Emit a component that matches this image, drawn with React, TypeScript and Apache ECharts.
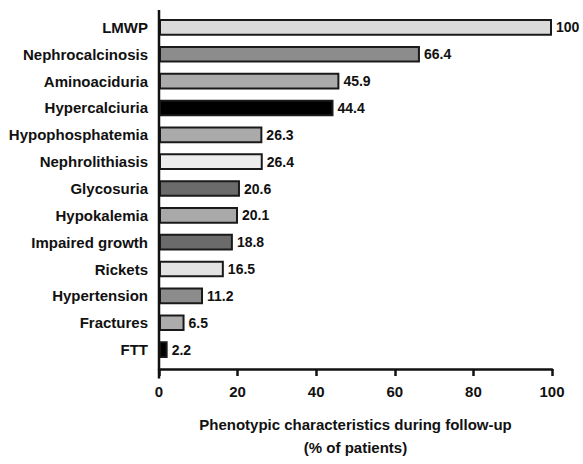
import React, { useEffect, useRef } from "react";
import * as echarts from "echarts";

const categories = [
  "LMWP",
  "Nephrocalcinosis",
  "Aminoaciduria",
  "Hypercalciuria",
  "Hypophosphatemia",
  "Nephrolithiasis",
  "Glycosuria",
  "Hypokalemia",
  "Impaired growth",
  "Rickets",
  "Hypertension",
  "Fractures",
  "FTT",
];
const values = [100, 66.4, 45.9, 44.4, 26.3, 26.4, 20.6, 20.1, 18.8, 16.5, 11.2, 6.5, 2.2];
const barColors = [
  "#dadada",
  "#8c8c8c",
  "#ababab",
  "#000000",
  "#aaaaaa",
  "#ededed",
  "#6b6b6b",
  "#a9a9a9",
  "#6b6b6b",
  "#e2e2e2",
  "#8c8c8c",
  "#acacac",
  "#000000",
];
const xTicks = [0, 20, 40, 60, 80, 100];

const FONT = "'Liberation Sans', Arial, sans-serif";

export default function App() {
  const ref = useRef<HTMLDivElement>(null);
  useEffect(() => {
    if (!ref.current) return;
    const chart = echarts.init(ref.current, null, { renderer: "svg" });
    chart.setOption({
      animation: false,
      backgroundColor: "#ffffff",
      textStyle: { fontFamily: FONT },
      grid: { left: 159, right: 31, top: 14, bottom: 92.5 },
      xAxis: {
        type: "value",
        min: xTicks[0],
        max: xTicks[xTicks.length - 1],
        interval: 20,
        offset: 6,
        splitLine: { show: false },
        axisLine: { show: true, lineStyle: { color: "#111", width: 2.5 } },
        axisTick: { show: true, length: 7, lineStyle: { color: "#111", width: 2.5 } },
        axisLabel: {
          color: "#111",
          fontSize: 15,
          fontWeight: "bold",
          fontFamily: FONT,
          margin: 15,
        },
        name: "Phenotypic characteristics during follow-up\n(% of patients)",
        nameLocation: "middle",
        nameGap: 44,
        nameTextStyle: {
          color: "#111",
          fontSize: 15,
          fontWeight: "bold",
          fontFamily: FONT,
          lineHeight: 23,
          verticalAlign: "top",
        },
      },
      yAxis: {
        type: "category",
        data: categories,
        inverse: true,
        axisLine: { show: false },
        axisTick: { show: false },
        axisLabel: {
          color: "#111",
          fontSize: 15,
          fontWeight: "bold",
          fontFamily: FONT,
          margin: 11,
        },
      },
      graphic: [
        {
          type: "line",
          shape: { x1: 159, y1: 10, x2: 159, y2: 378.5 },
          style: { stroke: "#111", lineWidth: 2.5 },
          z: 100,
        },
      ],
      series: [
        {
          type: "bar",
          data: values.map((v, i) => ({ value: v, itemStyle: { color: barColors[i] } })),
          barWidth: "62%",
          itemStyle: { borderColor: "#1a1a1a", borderWidth: 2 },
          label: {
            show: true,
            position: "right",
            distance: 4,
            color: "#111",
            fontSize: 14,
            fontWeight: "bold",
            fontFamily: FONT,
          },
        },
      ],
    });
    return () => chart.dispose();
  }, []);
  return (
    <div
      ref={ref}
      style={{ position: "fixed", left: 0, top: 0, width: 583, height: 464 }}
    />
  );
}
